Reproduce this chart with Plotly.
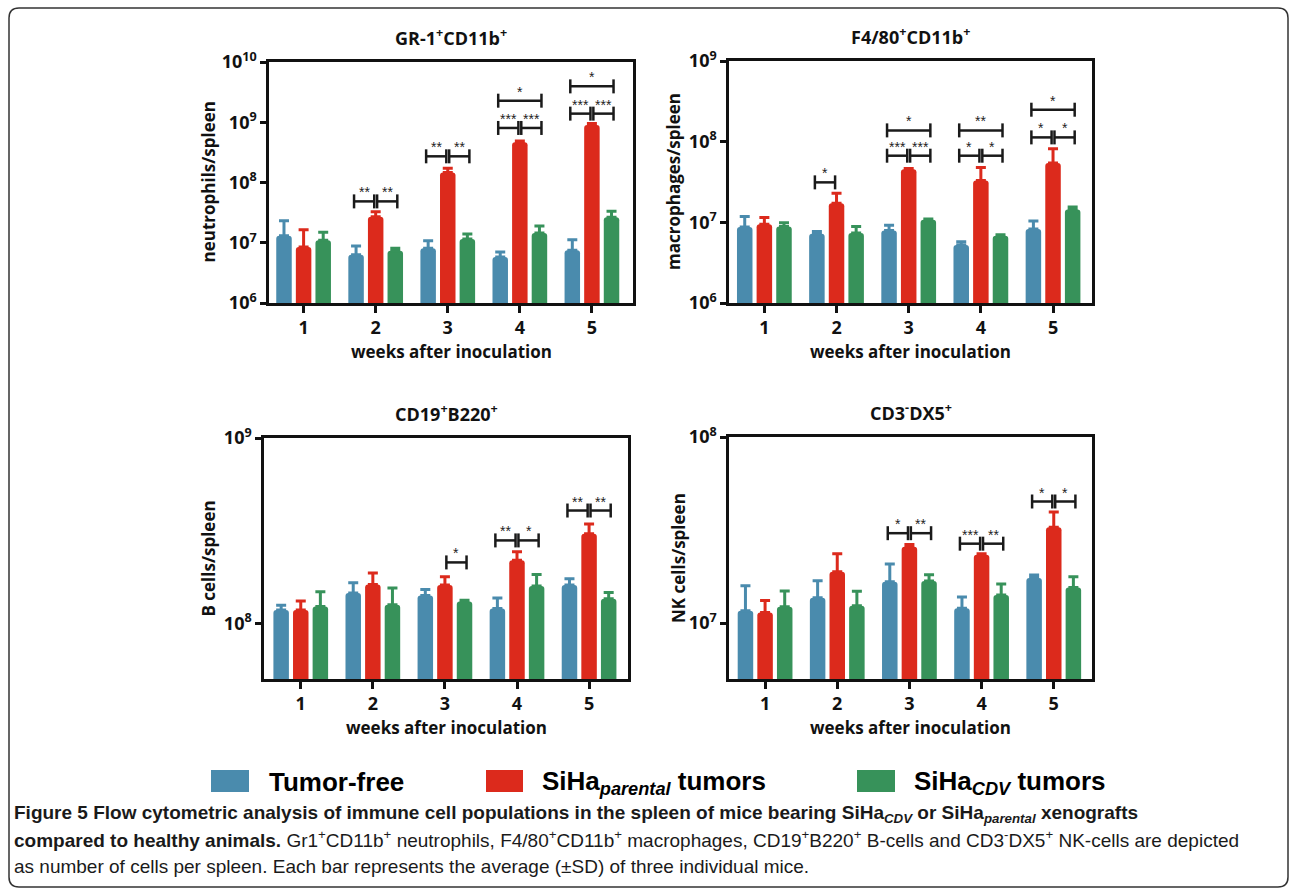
import math
import plotly.graph_objects as go

# ---------------- data ----------------
weeks = [1, 2, 3, 4, 5]
week_labels = ["1", "2", "3", "4", "5"]
series_names = ["Tumor-free", "SiHa<sub><i>parental</i></sub> tumors", "SiHa<sub><i>CDV</i></sub> tumors"]
series_colors = ["#4A8BAD", "#DC2A1C", "#37925A"]

# GR-1+CD11b+ neutrophils / spleen (mean, SD)
neutro_tumor_free = [1.31e7, 6.3e6, 8.1e6, 5.8e6, 7.5e6]
neutro_tumor_free_sd = [1.0e7, 2.5e6, 2.7e6, 1.2e6, 3.7e6]
neutro_parental = [8.5e6, 2.71e7, 1.46e8, 4.64e8, 9.0e8]
neutro_parental_sd = [8.0e6, 5.7e6, 2.6e7, 2.5e7, 5.0e7]
neutro_cdv = [1.1e7, 7.4e6, 1.15e7, 1.45e7, 2.64e7]
neutro_cdv_sd = [4.0e6, 0.7e6, 2.5e6, 4.5e6, 7.0e6]

# F4/80+CD11b+ macrophages / spleen
macro_tumor_free = [8.75e6, 7.2e6, 7.9e6, 5.24e6, 8.26e6]
macro_tumor_free_sd = [3.1e6, 0.5e6, 1.3e6, 0.5e6, 2.1e6]
macro_parental = [9.5e6, 1.72e7, 4.54e7, 3.29e7, 5.45e7]
macro_parental_sd = [2.0e6, 5.7e6, 1.0e6, 1.5e7, 2.7e7]
macro_cdv = [8.9e6, 7.4e6, 1.08e7, 6.84e6, 1.44e7]
macro_cdv_sd = [1.0e6, 1.5e6, 0.2e6, 0.2e6, 1.1e6]

# CD19+B220+ B cells / spleen
bcell_tumor_free = [1.18e8, 1.455e8, 1.41e8, 1.2e8, 1.61e8]
bcell_tumor_free_sd = [7.0e6, 2.0e7, 1.1e7, 1.7e7, 1.3e7]
bcell_parental = [1.18e8, 1.62e8, 1.61e8, 2.19e8, 3.04e8]
bcell_parental_sd = [1.4e7, 2.5e7, 1.7e7, 2.4e7, 3.9e7]
bcell_cdv = [1.23e8, 1.26e8, 1.31e8, 1.59e8, 1.357e8]
bcell_cdv_sd = [2.5e7, 2.9e7, 2.0e6, 2.4e7, 1.1e7]

# CD3-DX5+ NK cells / spleen
nk_tumor_free = [1.165e7, 1.368e7, 1.667e7, 1.2e7, 1.744e7]
nk_tumor_free_sd = [4.2e6, 3.2e6, 4.1e6, 1.8e6, 0.7e6]
nk_parental = [1.14e7, 1.884e7, 2.57e7, 2.33e7, 3.27e7]
nk_parental_sd = [1.8e6, 4.7e6, 0.7e6, 0.3e6, 6.8e6]
nk_cdv = [1.224e7, 1.24e7, 1.68e7, 1.413e7, 1.553e7]
nk_cdv_sd = [2.6e6, 2.4e6, 1.4e6, 2.1e6, 2.2e6]

# significance brackets: (week, pair, level, label); pair L = tumor-free vs parental,
# R = parental vs CDV, W = tumor-free vs CDV
neutro_sig = [(2, "L", 4.86e7, "**"), (2, "R", 4.86e7, "**"),
              (3, "L", 2.72e8, "**"), (3, "R", 2.72e8, "**"),
              (4, "L", 8.04e8, "***"), (4, "R", 8.04e8, "***"), (4, "W", 2.28e9, "*"),
              (5, "L", 1.39e9, "***"), (5, "R", 1.39e9, "***"), (5, "W", 3.94e9, "*")]
macro_sig = [(2, "L", 3.13e7, "*"),
             (3, "L", 6.7e7, "***"), (3, "R", 6.7e7, "***"), (3, "W", 1.38e8, "*"),
             (4, "L", 6.7e7, "*"), (4, "R", 6.7e7, "*"), (4, "W", 1.38e8, "**"),
             (5, "L", 1.13e8, "*"), (5, "R", 1.13e8, "*"), (5, "W", 2.49e8, "*")]
bcell_sig = [(3, "R", 2.13e8, "*"),
             (4, "L", 2.8e8, "**"), (4, "R", 2.8e8, "*"),
             (5, "L", 4.06e8, "**"), (5, "R", 4.06e8, "**")]
nk_sig = [(3, "L", 3.04e7, "*"), (3, "R", 3.04e7, "**"),
          (4, "L", 2.67e7, "***"), (4, "R", 2.67e7, "**"),
          (5, "L", 4.5e7, "*"), (5, "R", 4.5e7, "*")]

# ---------------- layout helpers ----------------
W, H = 1290, 892
def px(x):
    return x / W
def py(y):
    return 1 - y / H

FONT = "Open Sans"
panels = [
    dict(title="GR-1<sup>+</sup>CD11b<sup>+</sup>", ytitle="neutrophils/spleen",
         series=[(neutro_tumor_free, neutro_tumor_free_sd), (neutro_parental, neutro_parental_sd), (neutro_cdv, neutro_cdv_sd)],
         sig=neutro_sig, ylog=(6, 10), box=(269, 633, 62, 303), xr=(0.52, 5.57), ytx=208),
    dict(title="F4/80<sup>+</sup>CD11b<sup>+</sup>", ytitle="macrophages/spleen",
         series=[(macro_tumor_free, macro_tumor_free_sd), (macro_parental, macro_parental_sd), (macro_cdv, macro_cdv_sd)],
         sig=macro_sig, ylog=(6, 9), box=(729, 1092, 61, 303), xr=(0.51, 5.54), ytx=673),
    dict(title="CD19<sup>+</sup>B220<sup>+</sup>", ytitle="B cells/spleen",
         series=[(bcell_tumor_free, bcell_tumor_free_sd), (bcell_parental, bcell_parental_sd), (bcell_cdv, bcell_cdv_sd)],
         sig=bcell_sig, ylog=(math.log10(5e7), 9), box=(264, 628, 438, 679), xr=(0.49, 5.54), ytx=208),
    dict(title="CD3<sup>-</sup>DX5<sup>+</sup>", ytitle="NK cells/spleen",
         series=[(nk_tumor_free, nk_tumor_free_sd), (nk_parental, nk_parental_sd), (nk_cdv, nk_cdv_sd)],
         sig=nk_sig, ylog=(math.log10(5e6), 8), box=(729, 1092, 437, 679), xr=(0.50, 5.53), ytx=678),
]

fig = go.Figure()
annotations = []
shapes = []

def paper_text(x, y, text, size, family=FONT, color="#111", xanchor="center", angle=0):
    return dict(x=px(x), y=py(y), xref="paper", yref="paper", xanchor=xanchor, yanchor="middle",
                text=text, showarrow=False, textangle=angle,
                font=dict(family=family, size=size, color=color))

for i, p in enumerate(panels):
    n = i + 1
    xa = "x" if n == 1 else f"x{n}"
    ya = "y" if n == 1 else f"y{n}"
    x0, x1, y0, y1 = p["box"]
    for s, (vals, sds) in enumerate(p["series"]):
        fig.add_trace(go.Bar(
            x=weeks, y=vals, name=series_names[s], xaxis=xa, yaxis=ya,
            marker=dict(color=series_colors[s], line=dict(width=0), cornerradius=3),
            error_y=dict(type="data", array=sds, arrayminus=[0] * len(sds), symmetric=False,
                         color=series_colors[s], thickness=3, width=5),
            showlegend=False, hoverinfo="skip"))
    # significance brackets
    ppd = (y1 - y0) / (p["ylog"][1] - p["ylog"][0])
    tick = 10 ** (7 / ppd)
    bx, by = [], []
    for (wk, pair, lvl, lab) in p["sig"]:
        if pair == "L":
            a, b = wk - 0.30, wk - 0.02
        elif pair == "R":
            a, b = wk + 0.02, wk + 0.30
        else:
            a, b = wk - 0.30, wk + 0.30
        bx += [a, a, None, a, b, None, b, b, None]
        by += [lvl / tick, lvl * tick, None, lvl, lvl, None, lvl / tick, lvl * tick, None]
        annotations.append(dict(x=(a + b) / 2, y=math.log10(lvl), xref=xa, yref=ya, text=lab,
                                xanchor="center", yanchor="middle",
                                showarrow=False, yshift=9, font=dict(family="Liberation Sans", size=14, color="#222")))
    fig.add_trace(go.Scatter(x=bx, y=by, mode="lines", xaxis=xa, yaxis=ya,
                             line=dict(color="#1a1a1a", width=2.5), showlegend=False, hoverinfo="skip"))
    lo, hi = p["ylog"]
    decades = list(range(math.ceil(lo - 1e-9), int(math.floor(hi + 1e-9)) + 1))
    fig.update_layout(**{
        ("xaxis" if n == 1 else f"xaxis{n}"): dict(
            domain=[px(x0), px(x1)], anchor=ya, range=list(p["xr"]), tickvals=weeks, ticktext=week_labels,
            ticks="outside", ticklen=7, tickwidth=2.5, tickcolor="#111", showline=True, linewidth=2.5,
            linecolor="#111", mirror=True, showgrid=False, zeroline=False,
            tickfont=dict(family=FONT, size=18, color="#111", weight="bold")),
        ("yaxis" if n == 1 else f"yaxis{n}"): dict(
            domain=[py(y1), py(y0)], anchor=xa, type="log", range=[lo, hi],
            tickvals=[10 ** d for d in decades], ticktext=[f"10<sup>{d}</sup>" for d in decades],
            ticks="outside", ticklen=6, tickwidth=2.5, tickcolor="#111", showline=True, linewidth=2.5,
            linecolor="#111", mirror=True, showgrid=False, zeroline=False,
            tickfont=dict(family=FONT, size=18, color="#111", weight="bold")),
    })
    cx = (x0 + x1) / 2
    annotations.append(paper_text(cx, y0 - 25, f"<b>{p['title']}</b>", 18))
    annotations.append(paper_text(cx, y1 + 48, "<b>weeks after inoculation</b>", 17))
    annotations.append(paper_text(p["ytx"], (y0 + y1) / 2, f"<b>{p['ytitle']}</b>", 17, angle=-90))

# legend (drawn)
legend_boxes = [(211, 249), (486, 523), (857, 895)]
legend_text_x = [267, 540, 912]
for s in range(3):
    a, b = legend_boxes[s]
    shapes.append(dict(type="rect", xref="paper", yref="paper", x0=px(a), x1=px(b), y0=py(792), y1=py(770),
                       fillcolor=series_colors[s], line=dict(width=0)))
    annotations.append(paper_text(legend_text_x[s], 782, f"<b>{series_names[s]}</b>", 26,
                                  family="Liberation Sans", color="#000", xanchor="left"))

# caption
cap_font = "Liberation Sans"
caption_lines = [
    "<b>Figure 5 Flow cytometric analysis of immune cell populations in the spleen of mice bearing SiHa<sub><i>CDV</i></sub> or SiHa<sub><i>parental</i></sub> xenografts</b>",
    "<b>compared to healthy animals.</b> Gr1<sup>+</sup>CD11b<sup>+</sup> neutrophils, F4/80<sup>+</sup>CD11b<sup>+</sup> macrophages, CD19<sup>+</sup>B220<sup>+</sup> B-cells and CD3<sup>-</sup>DX5<sup>+</sup> NK-cells are depicted",
    "as number of cells per spleen. Each bar represents the average (±SD) of three individual mice.",
]
for line, yy in zip(caption_lines, [814, 839, 866]):
    annotations.append(paper_text(12, yy, line, 19, family=cap_font, color="#1a1a1a", xanchor="left"))

# outer rounded frame
r = 10
frame = (f"M {px(9)},{py(887 - r)} L {px(9)},{py(8 + r)} Q {px(9)},{py(8)} {px(9 + r)},{py(8)} "
         f"L {px(1288 - r)},{py(8)} Q {px(1288)},{py(8)} {px(1288)},{py(8 + r)} "
         f"L {px(1288)},{py(887 - r)} Q {px(1288)},{py(887)} {px(1288 - r)},{py(887)} "
         f"L {px(9 + r)},{py(887)} Q {px(9)},{py(887)} {px(9)},{py(887 - r)} Z")
shapes.append(dict(type="path", xref="paper", yref="paper", path=frame, line=dict(color="#333", width=1.5)))

fig.update_layout(width=W, height=H, margin=dict(l=0, r=0, t=0, b=0, autoexpand=False), paper_bgcolor="white",
                  plot_bgcolor="white", barmode="group", bargap=0.184, bargroupgap=0.21,
                  annotations=annotations, shapes=shapes, showlegend=False)
fig.write_html("out.html", config={"displayModeBar": False},
               post_script="document.body.style.margin='0';document.body.style.overflow='hidden';")
